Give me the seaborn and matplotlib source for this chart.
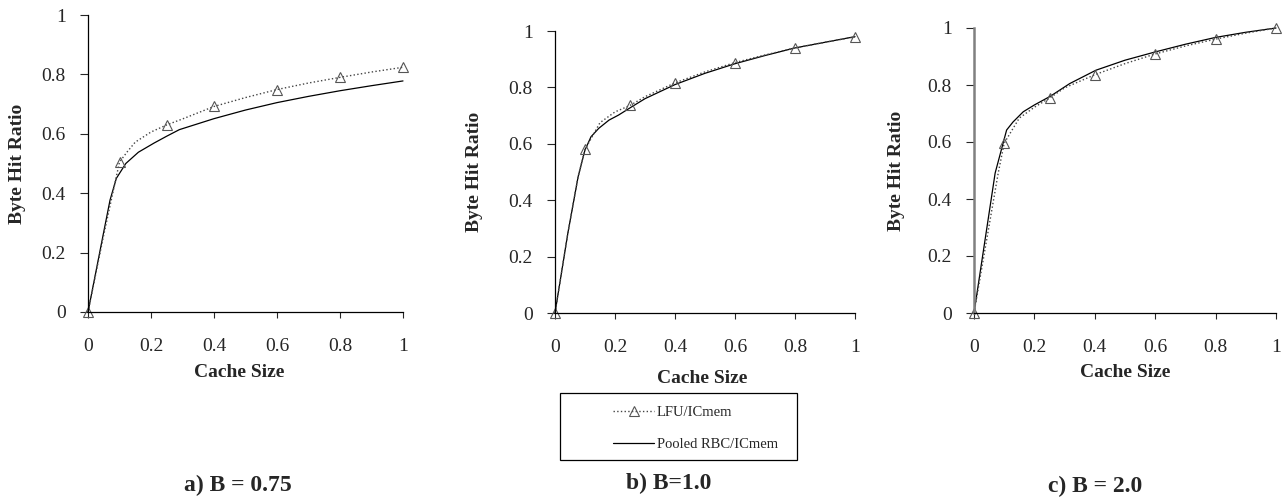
import seaborn as sns
import matplotlib.pyplot as plt
import matplotlib.ticker as mticker
from matplotlib.patches import Rectangle

# cache sizes that carry a triangle marker on the LFU curve
marked_sizes = [0, 0.1, 0.25, 0.4, 0.6, 0.8, 1.0]

# a) B = 0.75
a_lfu_x = [0, 0.05, 0.1, 0.125, 0.15, 0.2, 0.25, 0.3, 0.4, 0.5, 0.6, 0.7, 0.8, 0.9, 1.0]
a_lfu_y = [0, 0.26, 0.505, 0.54, 0.572, 0.606, 0.63, 0.65, 0.692, 0.722, 0.749, 0.771, 0.79, 0.808, 0.824]
a_rbc_x = [0, 0.05, 0.07, 0.09, 0.12, 0.16, 0.21, 0.25, 0.29, 0.4, 0.5, 0.6, 0.7, 0.8, 0.9, 1.0]
a_rbc_y = [0, 0.27, 0.377, 0.45, 0.50, 0.538, 0.569, 0.592, 0.614, 0.651, 0.68, 0.705, 0.726, 0.745, 0.762, 0.778]

# b) B = 1.0
b_lfu_x = [0, 0.043, 0.077, 0.1, 0.15, 0.2, 0.25, 0.3, 0.4, 0.5, 0.6, 0.7, 0.8, 0.9, 1.0]
b_lfu_y = [0, 0.284, 0.483, 0.58, 0.675, 0.713, 0.736, 0.767, 0.816, 0.855, 0.888, 0.915, 0.94, 0.96, 0.979]
b_rbc_x = [0, 0.043, 0.077, 0.1, 0.12, 0.146, 0.18, 0.212, 0.257, 0.3, 0.4, 0.5, 0.6, 0.7, 0.8, 0.9, 1.0]
b_rbc_y = [0, 0.284, 0.483, 0.578, 0.625, 0.655, 0.684, 0.702, 0.732, 0.76, 0.81, 0.85, 0.884, 0.913, 0.94, 0.96, 0.98]

# c) B = 2.0
c_lfu_x = [0, 0.08, 0.1, 0.15, 0.2, 0.25, 0.3, 0.4, 0.5, 0.6, 0.7, 0.8, 0.9, 1.0]
c_lfu_y = [0, 0.49, 0.596, 0.684, 0.722, 0.754, 0.79, 0.836, 0.875, 0.909, 0.937, 0.961, 0.982, 1.0]
c_rbc_x = [0, 0.07, 0.108, 0.129, 0.163, 0.2, 0.252, 0.317, 0.404, 0.5, 0.6, 0.7, 0.8, 0.9, 1.0]
c_rbc_y = [0, 0.491, 0.642, 0.67, 0.706, 0.73, 0.76, 0.805, 0.852, 0.887, 0.916, 0.943, 0.967, 0.985, 1.0]

captions = ["a) B = 0.75", "b) B=1.0", "c) B = 2.0"]
lfu_label = "LFU/ICmem"
rbc_label = "Pooled RBC/ICmem"

sns.set_style("ticks")
plt.rcParams['font.family'] = ['Liberation Serif', 'DejaVu Serif']

W, H = 1283, 501
fig = plt.figure(figsize=(W / 100, H / 100), dpi=100)

def px_axes(left, right, top, bottom):
    return fig.add_axes([left / W, 1 - bottom / H, (right - left) / W, (bottom - top) / H])

panels = [
    # axes box (px), data, ylabel x, xlabel pos, caption center
    dict(box=(88, 403, 15, 312), lfu=(a_lfu_x, a_lfu_y), rbc=(a_rbc_x, a_rbc_y),
         ylab_x=-0.225, xlab=(0.48, -0.205), cap=(238, 485)),
    dict(box=(555, 855, 31, 313), lfu=(b_lfu_x, b_lfu_y), rbc=(b_rbc_x, b_rbc_y),
         ylab_x=-0.267, xlab=(0.49, -0.234), cap=(669, 483)),
    dict(box=(974, 1276, 28, 313), lfu=(c_lfu_x, c_lfu_y), rbc=(c_rbc_x, c_rbc_y),
         ylab_x=-0.255, xlab=(0.5, -0.2105), cap=(1095, 486)),
]

for i, p in enumerate(panels):
    ax = px_axes(*p["box"])
    lx, ly = p["lfu"]
    rx, ry = p["rbc"]
    marks = [lx.index(v) for v in marked_sizes]

    sns.lineplot(x=rx, y=ry, ax=ax, color="black", lw=0.9, label=rbc_label)
    sns.lineplot(x=lx, y=ly, ax=ax, color="#444444", lw=1.0, linestyle=":",
                 marker="^", markevery=marks, markersize=7, markerfacecolor="none",
                 markeredgecolor="#555555", markeredgewidth=0.8, label=lfu_label)
    if ax.get_legend():
        ax.get_legend().remove()

    ax.set_xlim(0, 1.0)
    ax.set_ylim(0, 1.0)
    ax.set_xticks([0, 0.2, 0.4, 0.6, 0.8, 1.0])
    ax.set_yticks([0, 0.2, 0.4, 0.6, 0.8, 1.0])
    fmt = mticker.FuncFormatter(lambda v, pos: "%g" % round(v, 2))
    ax.xaxis.set_major_formatter(fmt)
    ax.yaxis.set_major_formatter(fmt)
    ax.tick_params(axis="x", direction="out", length=4.5, width=0.8, pad=14, labelsize=14)
    ax.tick_params(axis="y", direction="out", length=6, width=0.8, pad=10, labelsize=14)
    for s in ["top", "right"]:
        ax.spines[s].set_visible(False)
    for s in ["left", "bottom"]:
        ax.spines[s].set_color("black")
        ax.spines[s].set_linewidth(0.9)
    if i == 2:
        ax.spines["left"].set_color("#808080")
        ax.spines["left"].set_linewidth(1.8)
    for ln in ax.lines:
        ln.set_clip_on(False)

    ax.set_ylabel("Byte Hit Ratio", fontsize=14, fontweight="bold", va="center")
    ax.yaxis.set_label_coords(p["ylab_x"], 0.5)
    ax.set_xlabel("Cache Size", fontsize=14, fontweight="bold", va="center")
    ax.xaxis.set_label_coords(*p["xlab"])

    cx, cy = p["cap"]
    fig.text(cx / W, 1 - cy / H, captions[i], fontsize=17, fontweight="bold",
             ha="center", va="center")

    if i == 1:
        handles, labels = ax.get_legend_handles_labels()
        order = [labels.index(lfu_label), labels.index(rbc_label)]
        fig.legend([handles[k] for k in order], [labels[k] for k in order],
                   loc="center left", bbox_to_anchor=(606 / W, 1 - 428.5 / H),
                   frameon=False, fontsize=10.5, borderpad=0, handlelength=2.8,
                   handletextpad=0.2, labelspacing=1.25)

# legend frame
fig.patches.append(Rectangle((560 / W, 1 - 460 / H), 237 / W, 67 / H,
                             transform=fig.transFigure, fill=False,
                             edgecolor="black", lw=0.9))

fig.savefig("out.png", dpi=100)
